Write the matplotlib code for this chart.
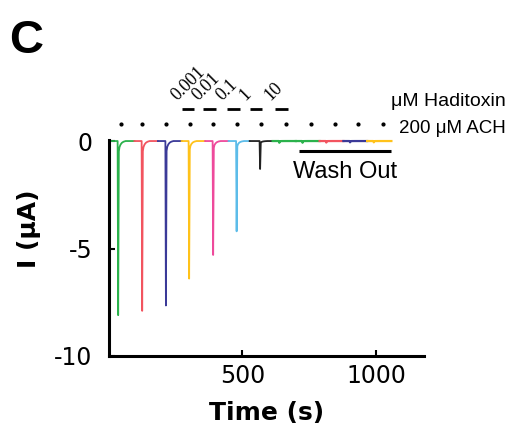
import numpy as np
import matplotlib
matplotlib.use("Agg")
import matplotlib.pyplot as plt

# ---- data ---------------------------------------------------------------
# toxin + ACH sweeps (start, end, time of ACH peak, peak current in uA)
sweep_colors = ['#2bb24c', '#f2545f', '#3b3a98', '#ffc21a', '#ee4a9b',
                '#5cbce9', '#222222']
sweep_start = [6, 95, 183, 272, 360, 448, 527]
sweep_end = [95, 183, 272, 360, 448, 527, 613]
spike_time = [34, 124, 213, 300, 390, 478, 566]
spike_peak = [-8.1, -7.9, -7.65, -6.4, -5.3, -4.2, -1.3]

# wash out sweeps (start, end, colour), only tiny responses left
wash_colors = ['#2bb24c', '#2bb24c', '#f2545f', '#3b3a98', '#ffc21a']
wash_start = [613, 700, 789, 878, 967]
wash_end = [700, 789, 878, 967, 1058]
wash_peak = [-0.08, -0.08, -0.07, -0.06, -0.06]

# shape of one ACH response (time after peak onset, fraction of peak)
shape_dt = [-2, 0, 2.5, 5, 9, 14, 20, 28]
shape_frac = [0.0, 1.0, 0.06, 0.035, 0.02, 0.01, 0.004, 0.0]

# ACH application dots and haditoxin bars
ach_times = [45, 124, 215, 302, 390, 480, 570, 662, 755, 845, 932, 1025]
toxin_conc = ['0.001', '0.01', '0.1', '1', '10']
toxin_start = [273, 352, 442, 528, 622]
toxin_end = [320, 402, 490, 572, 670]

washout_span = [711, 1057]


def sweep_trace(t0, t1, ts, peak):
    t = [t0] + [ts + d for d in shape_dt] + [t1]
    y = [0.0] + [peak * f for f in shape_frac] + [0.0]
    return t, y


fig = plt.figure(figsize=(5.17, 4.32), dpi=100)
ax = fig.add_axes([0.211, 0.176, 0.609, 0.500])

for c, t0, t1, ts, pk in zip(sweep_colors, sweep_start, sweep_end,
                             spike_time, spike_peak):
    t, y = sweep_trace(t0, t1, ts, pk)
    ax.plot(t, y, color=c, lw=1.3, clip_on=False, solid_joinstyle='round')

for c, t0, t1, pk in zip(wash_colors, wash_start, wash_end, wash_peak):
    t, y = sweep_trace(t0, t1, t0 + 25, pk)
    ax.plot(t, y, color=c, lw=1.6, clip_on=False)

# wash out bar and text
ax.plot(washout_span, [-0.47, -0.47], color='black', lw=2.2,
        solid_capstyle='butt', clip_on=False)
ax.text(np.mean(washout_span), -0.95, 'Wash Out', ha='center', va='top',
        fontsize=17, family='Liberation Sans')

# ACH dots
ax.plot(ach_times, [0.8] * len(ach_times), ls='none', marker='o',
        ms=2.0, color='black', clip_on=False)

# haditoxin bars and concentrations
for lab, t0, t1 in zip(toxin_conc, toxin_start, toxin_end):
    ax.plot([t0, t1], [1.5, 1.5], color='black', lw=2.0,
            solid_capstyle='butt', clip_on=False)
    ax.text(t0 - 8, 1.72, lab, rotation=45, rotation_mode='anchor',
            ha='left', va='bottom', fontsize=13, family='Liberation Serif')

ax.text(1058, 1.86, '\u03bcM Haditoxin', fontsize=14,
        family='Liberation Sans', va='center', ha='left')
ax.text(1088, 0.6, '200 \u03bcM ACH', fontsize=13.5,
        family='Liberation Sans', va='center', ha='left')

ax.set_xlim(0, 1180)
ax.set_ylim(-10, 0.05)
ax.set_xticks([500, 1000])
ax.set_yticks([0, -5, -10])
ax.set_yticklabels(['0', '-5', '-10'])

for side in ['top', 'right']:
    ax.spines[side].set_visible(False)
for side in ['left', 'bottom']:
    ax.spines[side].set_linewidth(2.2)

ax.tick_params(direction='in', length=4, width=1.5, labelsize=17)
ax.tick_params(axis='y', pad=12)
ax.tick_params(axis='x', pad=6)

ax.set_xlabel('Time (s)', fontsize=18, fontweight='bold')
ax.set_ylabel('I (\u03bcA)', fontsize=18, fontweight='bold')
ax.xaxis.set_label_coords(0.50, -0.21)
ax.yaxis.set_label_coords(-0.215, 0.59)

fig.text(0.018, 0.905, 'C', fontsize=34, fontweight='bold',
         family='Liberation Sans', va='center', ha='left')

fig.savefig('out.png', dpi=100)
